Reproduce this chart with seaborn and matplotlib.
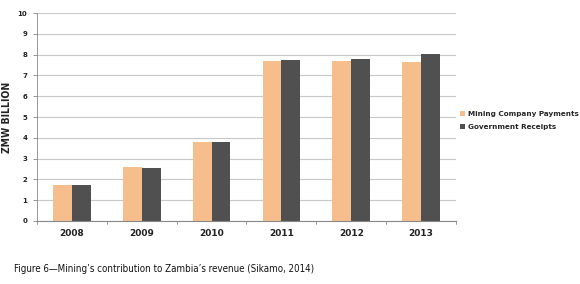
import matplotlib
matplotlib.use("Agg")
import matplotlib.pyplot as plt
import seaborn as sns
import pandas as pd
from matplotlib.patches import Patch

years = ["2008", "2009", "2010", "2011", "2012", "2013"]
mining_payments = [1.73, 2.61, 3.81, 7.69, 7.69, 7.64]
government_receipts = [1.71, 2.56, 3.80, 7.72, 7.79, 8.01]
series_names = ["Mining Company Payments", "Government Receipts"]
y_ticks = list(range(0, 11))

df = pd.DataFrame({
    "year": years * 2,
    "value": mining_payments + government_receipts,
    "series": [series_names[0]] * len(years) + [series_names[1]] * len(years),
})

sns.set_theme(style="white")
plt.rcParams["font.family"] = ["DejaVu Sans"]

colors = ["#F6BE8C", "#505050"]
fig = plt.figure(figsize=(5.8, 2.84), dpi=100)
ax = fig.add_axes([0.064, 0.222, 0.722, 0.732])

sns.barplot(data=df, x="year", y="value", hue="series", palette=colors,
            width=0.54, saturation=1, ax=ax, legend=False, errorbar=None,
            linewidth=0, edgecolor="none")

ax.set_ylim(0, 10)
ax.set_xlim(-0.5, len(years) - 0.5)
ax.set_yticks(y_ticks)
ax.set_yticklabels([str(t) for t in y_ticks], fontsize=5, fontweight="bold", color="#222222")
ax.set_xticks(range(len(years)))
ax.set_xticklabels(years, fontsize=6.5, fontweight="bold", color="#222222")
ax.tick_params(axis="x", length=0, pad=6)
ax.tick_params(axis="y", length=3, width=0.6, color="#888888", pad=4, left=True)
for i in range(len(years) + 1):
    ax.plot([i - 0.5, i - 0.5], [0, -0.15], color="#888888", lw=0.6, clip_on=False)

ax.yaxis.grid(True, color="#C8C8C8", lw=0.8)
ax.set_axisbelow(True)
for s in ["top", "right"]:
    ax.spines[s].set_visible(False)
ax.spines["left"].set_color("#888888")
ax.spines["left"].set_linewidth(0.6)
ax.spines["bottom"].set_color("#888888")
ax.spines["bottom"].set_linewidth(0.8)

ax.set_xlabel("")
ax.set_ylabel("ZMW BILLION", fontsize=7.5, fontweight="bold", color="#222222",
              fontstretch="condensed", labelpad=4)

handles = [Patch(facecolor=c, edgecolor="none") for c in colors]
fig.legend(handles, series_names, loc="center left", bbox_to_anchor=(0.782, 0.575),
           frameon=False, prop={"weight": "bold", "size": 5.2},
           handlelength=0.7, handleheight=0.7, handletextpad=0.4, labelspacing=0.9)

fig.text(0.024, 0.042, "Figure 6\u2014Mining\u2019s contribution to Zambia\u2019s revenue (Sikamo, 2014)",
         fontsize=7, color="#111111", fontstretch="condensed")

fig.savefig("out.png", dpi=100, facecolor="white")
